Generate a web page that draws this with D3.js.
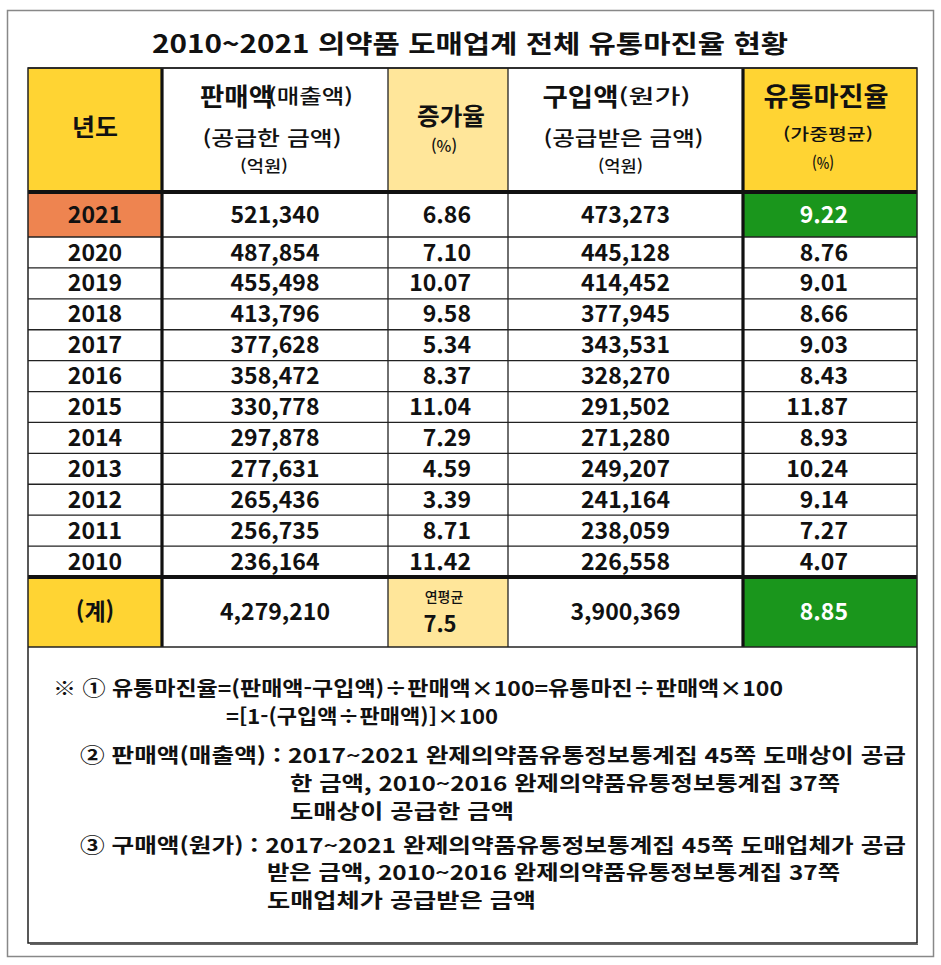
<!DOCTYPE html>
<html lang="ko">
<head>
<meta charset="utf-8">
<title>2010~2021 의약품 도매업계 전체 유통마진율 현황</title>
<script src="https://d3js.org/d3.v7.min.js"></script>
<style>
	body { margin: 0; background: #fff; }
	svg text { font-family: "Noto Sans CJK KR", "Noto Sans", sans-serif; fill: #111; }
</style>
</head>
<body>
<div id="chart"></div>
<script>
// ---- data ----
const title = "2010~2021 의약품 도매업계 전체 유통마진율 현황";
const years    = ["2021","2020","2019","2018","2017","2016","2015","2014","2013","2012","2011","2010"];
const sales    = [521340,487854,455498,413796,377628,358472,330778,297878,277631,265436,256735,236164];
const growth   = [6.86,7.10,10.07,9.58,5.34,8.37,11.04,7.29,4.59,3.39,8.71,11.42];
const purchase = [473273,445128,414452,377945,343531,328270,291502,271280,249207,241164,238059,226558];
const margin   = [9.22,8.76,9.01,8.66,9.03,8.43,11.87,8.93,10.24,9.14,7.27,4.07];
const totalLabel = "(계)";
const totalSales = 4279210;
const avgGrowthLabel = "연평균";
const avgGrowth = 7.5;
const totalPurchase = 3900369;
const totalMargin = 8.85;
const columns = ["year","sales","growth","purchase","margin"];
const notes = [
	"※ ① 유통마진율=(판매액-구입액)÷판매액×100=유통마진÷판매액×100",
	"=[1-(구입액÷판매액)]×100",
	"② 판매액(매출액) : 2017~2021 완제의약품유통정보통계집 45쪽 도매상이 공급",
	"한 금액, 2010~2016 완제의약품유통정보통계집 37쪽",
	"도매상이 공급한 금액",
	"③ 구매액(원가) : 2017~2021 완제의약품유통정보통계집 45쪽 도매업체가 공급",
	"받은 금액, 2010~2016 완제의약품유통정보통계집 37쪽",
	"도매업체가 공급받은 금액"
];

// ---- layout ----
const W = 941, H = 965;
const colEdges = [28, 162, 388, 508, 743, 917];
const headTop = 68, firstTop = 192, bodyTop = 237, bodyBottom = 577, totalBottom = 647, boxBottom = 943;
const gold = "#FFD433", pale = "#FFE69A", orange = "#EE8450", green = "#1A961C", line = "#222";

const fmt = d3.format(",");
const fmt2 = d3.format(".2f");

const x = d3.scaleOrdinal().domain(columns).range(colEdges.slice(0, 5));
const wOf = c => colEdges[columns.indexOf(c) + 1] - colEdges[columns.indexOf(c)];
const cx = c => x(c) + wOf(c) / 2;

// rows 2020..2010 share one band scale, 2021 row is taller
const yBand = d3.scaleBand().domain(years.slice(1)).range([bodyTop, bodyBottom]);
const rowTop = yr => yr === years[0] ? firstTop : yBand(yr);
const rowH = yr => yr === years[0] ? bodyTop - firstTop : yBand.bandwidth();

const svg = d3.select("#chart").append("svg")
	.attr("width", W).attr("height", H);

// outer frame
svg.append("rect").attr("x", 7.5).attr("y", 10.5).attr("width", 926).attr("height", 946)
	.attr("fill", "#fff").attr("stroke", "#888").attr("stroke-width", 1.5);

// title
svg.append("text").attr("x", 152).attr("y", 44).attr("dy", "0.35em")
	.attr("font-size", 25).attr("font-weight", 700)
	.attr("textLength", 636).attr("lengthAdjust", "spacingAndGlyphs")
	.text(title);

// ---- header fills ----
const headFill = { year: gold, sales: "#fff", growth: pale, purchase: "#fff", margin: gold };
svg.append("g").selectAll("rect").data(columns).join("rect")
	.attr("x", d => x(d)).attr("y", headTop)
	.attr("width", d => wOf(d)).attr("height", firstTop - headTop)
	.attr("fill", d => headFill[d]);

// header texts
const head = svg.append("g");
function htext(c, dx, y, size, bold, len, str) {
	const el = head.append("text").attr("x", cx(c) + dx).attr("y", y).attr("dy", "0.35em")
		.attr("text-anchor", "middle")
		.attr("font-size", size).attr("font-weight", bold ? 700 : 500).text(str);
	if (len) el.attr("textLength", len).attr("lengthAdjust", "spacingAndGlyphs");
	return el;
}
htext("year", 0, 128, 24, true, 46, "년도");
htext("sales", -38.5, 97, 25, true, 73, "판매액");
htext("sales", 35.5, 97, 20, false, 85, "(매출액)");
htext("sales", -3, 139, 20, false, 139, "(공급한 금액)");
htext("sales", -11, 166, 16, false, 48, "(억원)");
htext("growth", 3, 117, 24, true, 68, "증가율");
htext("growth", -4, 146, 16, false, 26, "(%)");
htext("purchase", -45, 97, 25, true, 76, "구입액");
htext("purchase", 29, 97, 20, false, 72, "(원가)");
htext("purchase", -2, 139, 20, false, 160, "(공급받은 금액)");
htext("purchase", -5, 166, 16, false, 45, "(억원)");
htext("margin", -4, 97, 26, true, 125, "유통마진율");
htext("margin", -2, 134, 16, false, 90, "(가중평균)");
htext("margin", -7, 163, 16, false, 22, "(%)");

// ---- body rows ----
const rows = years.map((yr, i) => ({ year: yr, sales: sales[i], growth: growth[i], purchase: purchase[i], margin: margin[i], first: i === 0 }));

const body = svg.append("g");
body.selectAll("rect.yr").data(rows.filter(d => d.first)).join("rect")
	.attr("x", x("year")).attr("y", d => rowTop(d.year))
	.attr("width", wOf("year")).attr("height", d => rowH(d.year)).attr("fill", orange);
body.selectAll("rect.mg").data(rows.filter(d => d.first)).join("rect")
	.attr("x", x("margin")).attr("y", d => rowTop(d.year))
	.attr("width", wOf("margin")).attr("height", d => rowH(d.year)).attr("fill", green);

const rowG = body.selectAll("g.row").data(rows).join("g")
	.attr("transform", d => `translate(0,${rowTop(d.year) + rowH(d.year) / 2})`)
	.attr("font-size", 23).attr("font-weight", 700);
rowG.append("text").attr("x", cx("year")).attr("dy", "0.35em").attr("text-anchor", "middle").text(d => d.year);
rowG.append("text").attr("x", cx("sales")).attr("dy", "0.35em").attr("text-anchor", "middle").text(d => fmt(d.sales));
rowG.append("text").attr("x", x("growth") + wOf("growth") - 37).attr("dy", "0.35em").attr("text-anchor", "end").text(d => fmt2(d.growth));
rowG.append("text").attr("x", cx("purchase")).attr("dy", "0.35em").attr("text-anchor", "middle").text(d => fmt(d.purchase));
rowG.append("text").attr("x", x("margin") + wOf("margin") - 69).attr("dy", "0.35em").attr("text-anchor", "end")
	.style("fill", d => d.first ? "#fff" : "#111").text(d => fmt2(d.margin));

// ---- total row ----
const tot = svg.append("g");
const totFill = { year: gold, sales: "#fff", growth: pale, purchase: "#fff", margin: green };
tot.selectAll("rect").data(columns).join("rect")
	.attr("x", d => x(d)).attr("y", bodyBottom)
	.attr("width", d => wOf(d)).attr("height", totalBottom - bodyBottom)
	.attr("fill", d => totFill[d]);
const tmid = (bodyBottom + totalBottom) / 2;
const tg = tot.append("g").attr("font-size", 23).attr("font-weight", 700).attr("text-anchor", "middle");
tg.append("text").attr("x", cx("year")).attr("y", tmid).attr("dy", "0.35em").text(totalLabel);
tg.append("text").attr("x", cx("sales")).attr("y", tmid).attr("dy", "0.35em").text(fmt(totalSales));
tg.append("text").attr("x", cx("growth") - 4).attr("y", tmid - 15).attr("dy", "0.35em").attr("font-size", 14).attr("font-weight", 500).text(avgGrowthLabel);
tg.append("text").attr("x", cx("growth") - 8).attr("y", tmid + 12).attr("dy", "0.35em").attr("font-size", 22).text(avgGrowth);
tg.append("text").attr("x", cx("purchase")).attr("y", tmid).attr("dy", "0.35em").text(fmt(totalPurchase));
tg.append("text").attr("x", x("margin") + wOf("margin") - 69).attr("y", tmid).attr("dy", "0.35em")
	.attr("text-anchor", "end").style("fill", "#fff").text(fmt2(totalMargin));

// ---- grid lines ----
const grid = svg.append("g").attr("stroke", line).attr("fill", "none");
// thin horizontal lines between body rows
grid.selectAll("line.h").data(years.slice(1)).join("line")
	.attr("x1", colEdges[0]).attr("x2", colEdges[5])
	.attr("y1", d => yBand(d)).attr("y2", d => yBand(d))
	.attr("stroke-width", 1.3);
// thin vertical lines
grid.selectAll("line.v").data([colEdges[2], colEdges[3]]).join("line")
	.attr("x1", d => d).attr("x2", d => d)
	.attr("y1", headTop).attr("y2", totalBottom).attr("stroke-width", 1.3);
// thick vertical lines
grid.selectAll("line.vt").data([colEdges[1], colEdges[4]]).join("line")
	.attr("x1", d => d).attr("x2", d => d)
	.attr("y1", headTop).attr("y2", totalBottom).attr("stroke-width", 3.2).attr("stroke", "#111");
// thick horizontal lines
grid.selectAll("line.ht").data([firstTop, bodyBottom]).join("line")
	.attr("x1", colEdges[0]).attr("x2", colEdges[5])
	.attr("y1", d => d).attr("y2", d => d).attr("stroke-width", 3.8).attr("stroke", "#111");
// top of table, total row bottom
grid.selectAll("line.hb").data([headTop, totalBottom]).join("line")
	.attr("x1", colEdges[0]).attr("x2", colEdges[5])
	.attr("y1", d => d).attr("y2", d => d).attr("stroke-width", 1.5);
// box around table + notes
grid.append("rect").attr("x", colEdges[0]).attr("y", headTop)
	.attr("width", colEdges[5] - colEdges[0]).attr("height", boxBottom - headTop)
	.attr("stroke-width", 1.5);
grid.append("line").attr("x1", colEdges[0] + 2).attr("x2", colEdges[5] + 1)
	.attr("y1", boxBottom + 1.5).attr("y2", boxBottom + 1.5).attr("stroke", "#666").attr("stroke-width", 1.2);

// ---- notes ----
const notePos = [
	{ x: 53, y: 689, w: 730 },
	{ x: 226, y: 717, w: 272 },
	{ x: 80, y: 756, w: 826 },
	{ x: 290, y: 784, w: 550 },
	{ x: 290, y: 812, w: 224 },
	{ x: 80, y: 846, w: 826 },
	{ x: 267, y: 873, w: 573 },
	{ x: 267, y: 901, w: 269 }
];
svg.append("g").selectAll("text").data(notes).join("text")
	.attr("x", (d, i) => notePos[i].x).attr("y", (d, i) => notePos[i].y).attr("dy", "0.35em")
	.attr("font-size", 20).attr("font-weight", 700)
	.attr("textLength", (d, i) => notePos[i].w).attr("lengthAdjust", "spacingAndGlyphs")
	.text(d => d);
</script>
</body>
</html>
